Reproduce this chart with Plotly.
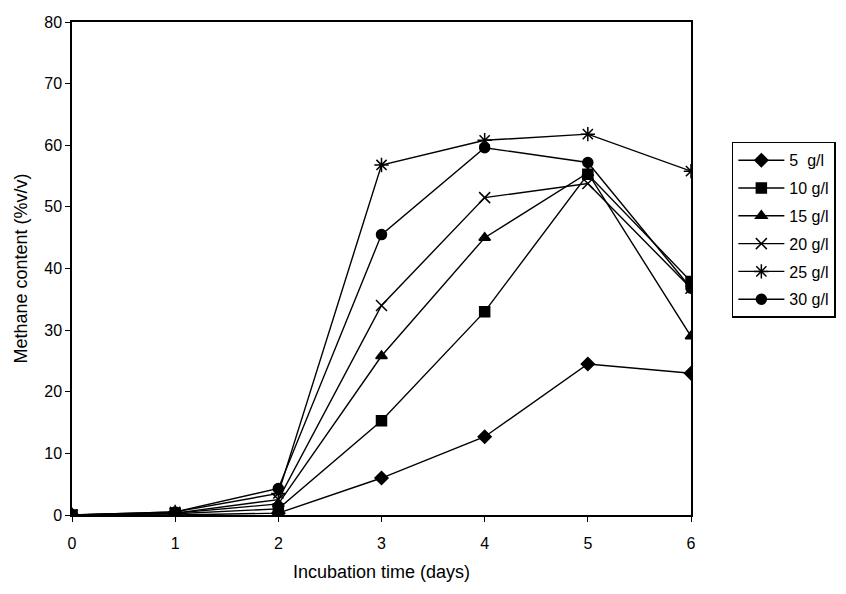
import plotly.graph_objects as go

days = [0, 1, 2, 3, 4, 5, 6]
series_names = ["5  g/l", "10 g/l", "15 g/l", "20 g/l", "25 g/l", "30 g/l"]
s5 = [0, 0, 0.3, 6, 12.7, 24.5, 23]
s10 = [0, 0.2, 1.0, 15.3, 33, 55.3, 37.9]
s15 = [0, 0.3, 1.8, 25.8, 45, 55.5, 29]
s20 = [0, 0.3, 2.5, 34, 51.5, 53.8, 36.8]
s25 = [0, 0.5, 3.5, 56.8, 60.8, 61.8, 55.8]
s30 = [0, 0.5, 4.3, 45.5, 59.6, 57.2, 36.8]
values = [s5, s10, s15, s20, s25, s30]
symbols = ["diamond", "square", "triangle-up", "x-thin-open", "asterisk-open", "circle"]
sizes = [10, 10, 10, 11, 12, 10]

x_ticks = [0, 1, 2, 3, 4, 5, 6]
y_ticks = [0, 10, 20, 30, 40, 50, 60, 70, 80]

fig = go.Figure()
for i, (name, vals, sym, sz) in enumerate(zip(series_names, values, symbols, sizes)):
    fig.add_trace(go.Scatter(
        x=days, y=vals, name=name, mode="lines+markers",
        legendgroup="g%d" % i,
        line=dict(color="black", width=1.4),
        marker=dict(symbol=sym, size=sz, color="black",
                    line=dict(color="black", width=1.5)),
    ))

font_family = "Liberation Sans, Arial, sans-serif"
fig.update_layout(
    width=846, height=594,
    margin=dict(l=72, r=155, t=22, b=79, autoexpand=False),
    paper_bgcolor="white", plot_bgcolor="white",
    font=dict(family=font_family, color="black", size=15),
    showlegend=True,
    legend=dict(
        x=1.066, y=0.757, xanchor="left", yanchor="top",
        bordercolor="black", borderwidth=1.5,
        font=dict(size=16), bgcolor="white",
        tracegroupgap=4, itemwidth=46,
    ),
    xaxis=dict(
        range=[0, 6], tickvals=x_ticks, ticktext=[str(v) for v in x_ticks],
        showgrid=False, zeroline=False, showline=True, linecolor="black",
        linewidth=1.5, mirror=True, ticks="outside", ticklen=5,
        tickcolor="black", tickfont=dict(size=16), ticklabelstandoff=8,
        title=dict(text="Incubation time (days)", font=dict(size=18), standoff=14),
    ),
    yaxis=dict(
        range=[0, 80], tickvals=y_ticks, ticktext=[str(v) for v in y_ticks],
        showgrid=False, zeroline=False, showline=True, linecolor="black",
        linewidth=1.5, mirror=True, ticks="outside", ticklen=5,
        tickcolor="black", tickfont=dict(size=16),
        title=dict(text="Methane content (%v/v)", font=dict(size=18), standoff=12),
    ),
)

fig.write_html("out.html")
